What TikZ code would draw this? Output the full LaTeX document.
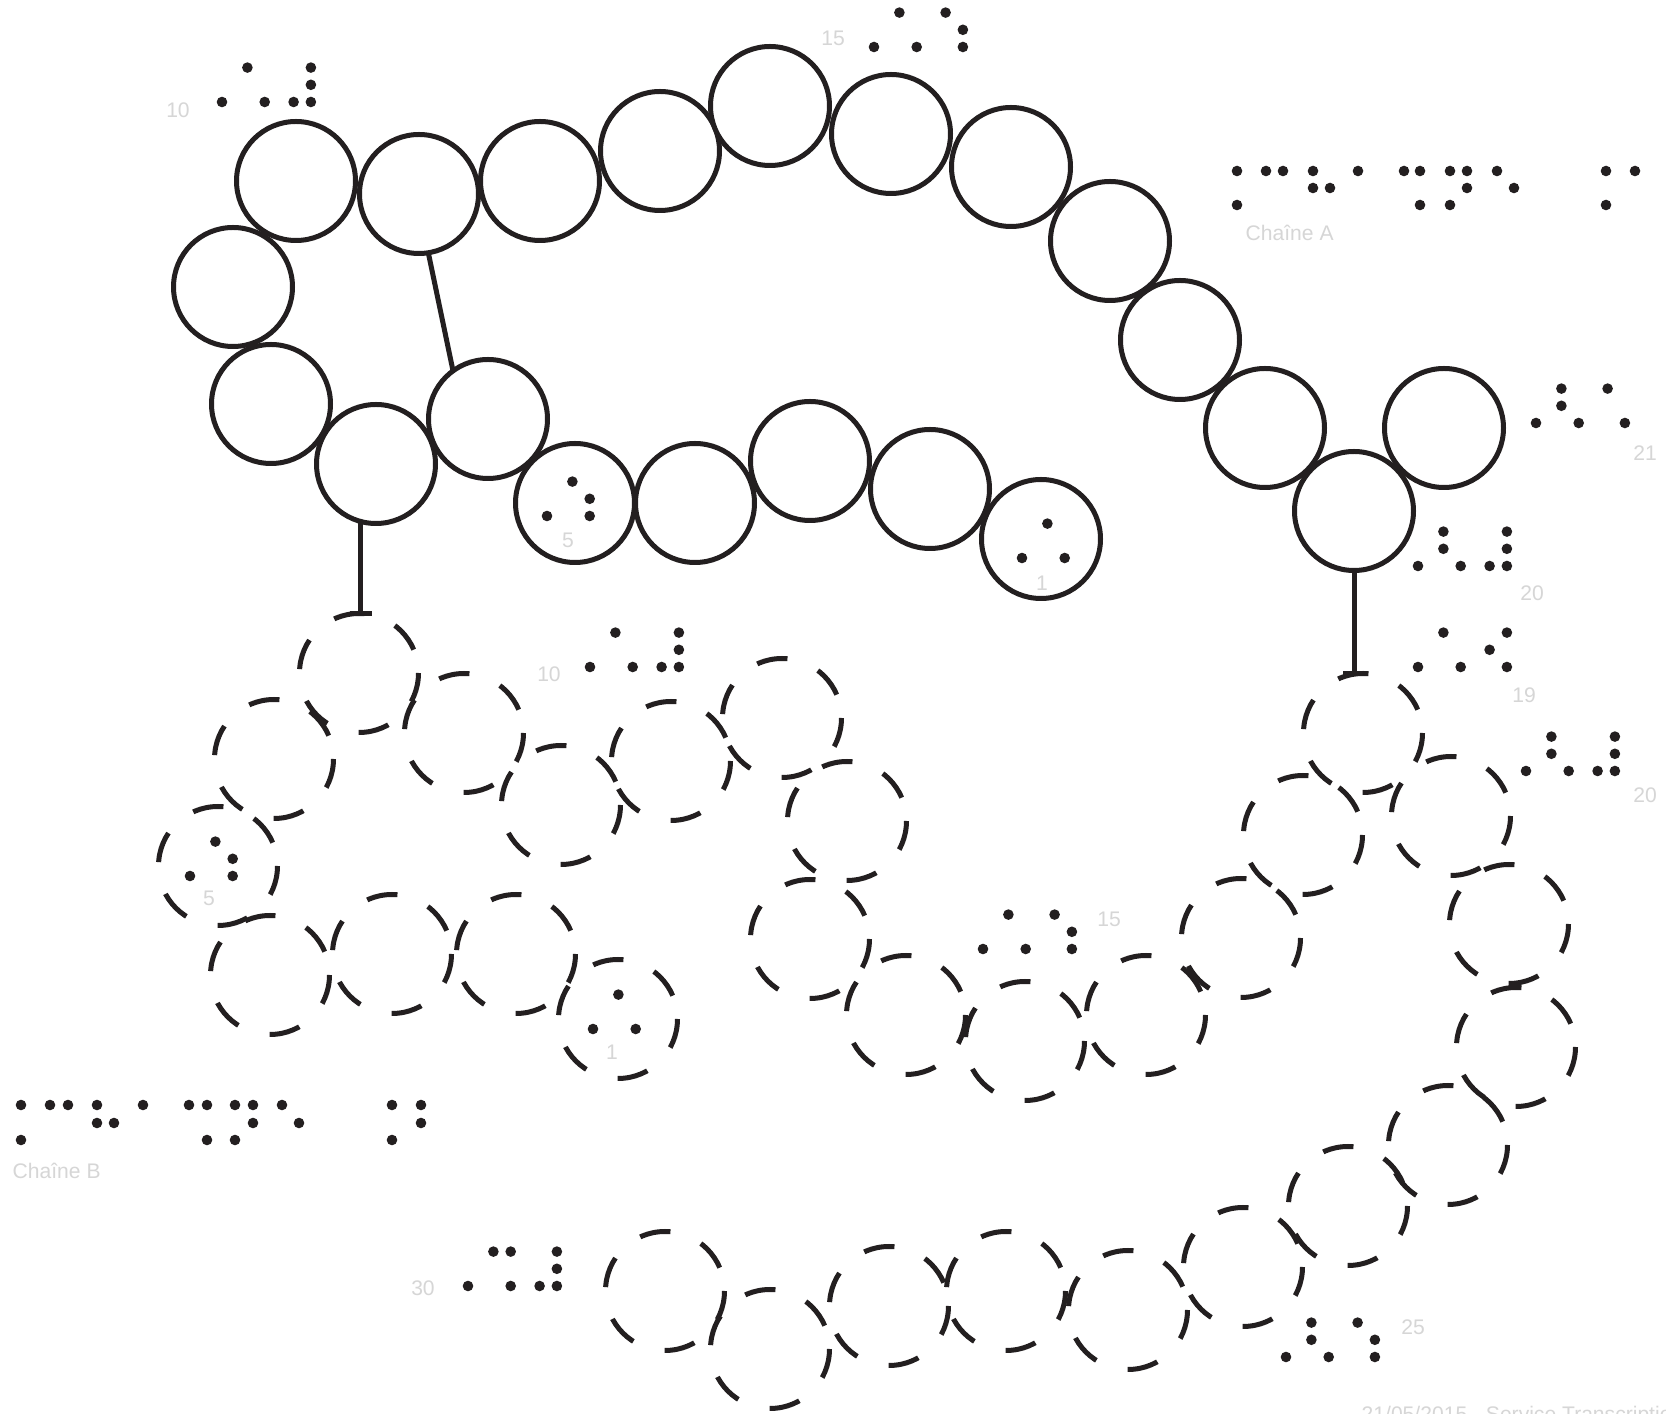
\documentclass[tikz,border=0pt]{standalone}
\usepackage{fontspec}
\setmainfont{Liberation Sans}
\definecolor{xInk}{RGB}{35,31,32}
\definecolor{xLabel}{RGB}{214,214,214}

\tikzset{
  acircle/.style={circle, draw=xInk, fill=white, line width=0.5mm,
    minimum size=11.9mm, inner sep=0pt, outer sep=0pt},
  bcircle/.style={circle, draw=xInk, line width=0.5mm,
    minimum size=11.9mm, inner sep=0pt, outer sep=0pt,
    dash pattern=on 3.1mm off 3.3mm, dash phase=4mm},
  bond/.style={draw=xInk, line width=0.5mm},
  numlabel/.style={text=xLabel, font=\fontsize{6}{7}\selectfont, inner sep=0pt},
}

% one braille dot
\newcommand{\brdot}[2]{\fill[xInk] (#1,#2) circle[radius=0.53mm];}

% braille number: #1,#2 = dot 6 of the number sign, #3 = digits
\newcommand{\brnum}[3]{%
  \brdot{#1}{#2}
  \foreach \d [count=\k] in {#3}{
    \ifcase\d\relax \def\pat{0/2,1/0,1/1,1/2}%
    \or \def\pat{0/0,1/2}%
    \or \def\pat{0/0,0/1,1/2}%
    \or \def\pat{0/0,1/0,1/2}%
    \or \def\pat{0/0,1/0,1/1,1/2}%
    \or \def\pat{0/0,1/1,1/2}%
    \or \def\pat{0/0,0/1,1/0,1/2}%
    \or \def\pat{0/0,0/1,1/0,1/1,1/2}%
    \or \def\pat{0/0,0/1,1/1,1/2}%
    \or \def\pat{0/1,1/0,1/2}%
    \fi
    \foreach \bx/\by in \pat{
      \brdot{{#1+25.4+46.2*(\k-1)+17.3*\bx}}{{#2-34.4+17.2*\by}}
    }
  }%
}

\begin{document}
\begin{tikzpicture}[x=0.1mm,y=-0.1mm]

    \useasboundingbox (0,0) rectangle (1666,1414);
    \fill[white] (0,0) rectangle (1666,1414);

    % -------------------------------------------------
    % Chain B (dashed)
    % -------------------------------------------------
    \foreach \n/\x/\y in {
        1/618/1019, 2/516/954, 3/392/954, 4/270/975, 5/218/866,
        6/274/759, 7/359/673, 8/464/733, 9/561/805, 10/671/761,
        11/782/718, 12/847/821, 13/810/939, 14/906/1015, 15/1025/1041,
        16/1146/1015, 17/1241/938, 18/1303/835, 19/1363/733, 20/1451/816,
        21/1509/924, 22/1516/1047, 23/1448/1145, 24/1348/1206, 25/1243/1267,
        26/1128/1310, 27/1006/1291, 28/889/1306, 29/770/1349, 30/665/1291
    }{
        \node[bcircle] (b\n) at (\x,\y) {};
    }

    % -------------------------------------------------
    % Chain A (solid)
    % -------------------------------------------------
    \foreach \n/\x/\y in {
        1/1041/539, 2/930/489, 3/810/461, 4/695/503, 5/575/503,
        6/488/419, 7/376/464, 8/271/404, 9/233/287, 10/296/181,
        11/419/194, 12/540/181, 13/660/151, 14/770/106, 15/891/134,
        16/1011/167, 17/1110/241, 18/1180/340, 19/1265/428, 20/1354/511,
        21/1444/428
    }{
        \node[acircle] (a\n) at (\x,\y) {};
    }

    % -------------------------------------------------
    % Disulfide bridges
    % -------------------------------------------------
    \draw[bond] (a11.-81) -- (a6.126);

    \coordinate (t7) at (a7.-105 |- b7.north);
    \draw[bond] (a7.-105) -- (t7);
    \draw[bond] ([xshift=-1.1mm]t7) -- ([xshift=1.1mm]t7);

    \coordinate (t20) at (a20.south |- b19.north);
    \draw[bond] (a20.south) -- (t20);
    \draw[bond] ([xshift=-1.1mm]t20) -- ([xshift=1.1mm]t20);

    % -------------------------------------------------
    % Braille numbers
    % -------------------------------------------------
    \brnum{1022}{558}{1}
    \brnum{547}{516}{5}
    \brnum{222}{102}{1,0}
    \brnum{874}{47}{1,5}
    \brnum{1418}{566}{2,0}
    \brnum{1536}{423}{2,1}

    \brnum{593}{1029}{1}
    \brnum{190}{876}{5}
    \brnum{590}{667}{1,0}
    \brnum{983}{949}{1,5}
    \brnum{1418}{667}{1,9}
    \brnum{1526}{771}{2,0}
    \brnum{1286}{1357}{2,5}
    \brnum{468}{1286}{3,0}

    % -------------------------------------------------
    % Braille chain names
    % -------------------------------------------------
    \foreach \x/\y in {
        1237/171, 1266/171, 1283/171, 1313/171, 1358/171, 1404/171,
        1420/171, 1450/171, 1467/171, 1497/171, 1606/171, 1635/171,
        1313/188, 1330/188, 1467/188, 1514/188,
        1237/205, 1420/205, 1450/205, 1606/205
    }{
        \brdot{\x}{\y}
    }
    \foreach \x/\y in {
        21/1105, 50/1105, 68/1105, 97/1105, 143/1105, 189/1105,
        207/1105, 235/1105, 253/1105, 282/1105, 392/1105, 421/1105,
        97/1123, 114/1123, 253/1123, 299/1123, 421/1123,
        21/1140, 207/1140, 235/1140, 392/1140
    }{
        \brdot{\x}{\y}
    }

    % -------------------------------------------------
    % Grey print labels
    % -------------------------------------------------
    \node[numlabel] (lA1)  at (1042,583) {1};
    \node[numlabel] (lA5)  at (568,540)  {5};
    \node[numlabel] (lA10) at (178,110)  {10};
    \node[numlabel] (lA15) at (833,38)   {15};
    \node[numlabel] (lA20) at (1532,593) {20};
    \node[numlabel] (lA21) at (1645,453) {21};

    \node[numlabel] (lB1)  at (612,1052) {1};
    \node[numlabel] (lB5)  at (209,898)  {5};
    \node[numlabel] (lB10) at (549,674)  {10};
    \node[numlabel] (lB15) at (1109,919) {15};
    \node[numlabel] (lB19) at (1524,695) {19};
    \node[numlabel] (lB20) at (1645,795) {20};
    \node[numlabel] (lB25) at (1413,1327) {25};
    \node[numlabel] (lB30) at (423,1288) {30};

    \node[numlabel, anchor=base west] (nameA) at (1245,241) {Chaîne A};
    \node[numlabel, anchor=base west] (nameB) at (12,1179) {Chaîne B};
    \node[numlabel, anchor=base west] (footer) at (1361,1422)
        {21/05/2015 - Service Transcription};

\end{tikzpicture}
\end{document}
